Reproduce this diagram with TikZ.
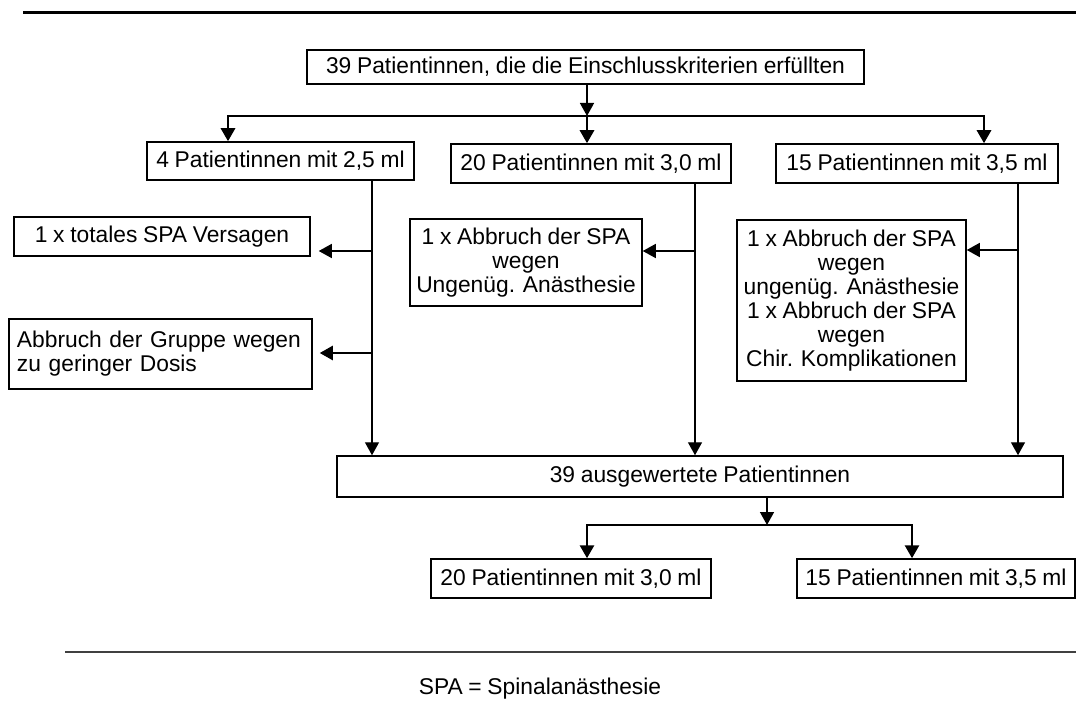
\documentclass[tikz,border=0pt]{standalone}
\usepackage{fontspec}
\setmainfont[WordSpace=0.9]{Liberation Sans}
\usetikzlibrary{arrows.meta}
\tikzset{
  box/.style={draw, line width=0.75pt, inner sep=2pt, align=center, font=\fontsize{11.4}{12}\selectfont},
  arr/.style={-{Triangle[length=6.5pt,width=7pt]}, line width=0.7pt},
  bar/.style={line width=1.4pt}
}
\begin{document}
\begin{tikzpicture}[x=0.5pt,y=-0.5pt]
  %%%%% START %%%%%
  \def\ybar{116}
  \def\ylow{525}
  \useasboundingbox (0,0) rectangle (1076,706);

  \draw[line width=1.5pt] (23,13) -- (1076,13);
  \draw[line width=0.8pt, black!75] (65,652) -- (1076,652);

  \node[box, minimum width=278.5pt, minimum height=17pt] (all) at (585.5,67) {39 Patientinnen, die die Einschlusskriterien erfüllten};

  \node[box, minimum width=133.5pt, minimum height=19pt] (g25) at (280.5,161) {4 Patientinnen mit 2,5 ml};
  \node[box, minimum width=140pt, minimum height=19.5pt] (g30) at (591,163.5) {20 Patientinnen mit 3,0 ml};
  \node[box, minimum width=141pt, minimum height=19.5pt] (g35) at (917,163.5) {15 Patientinnen mit 3,5 ml};

  \node[box, minimum width=148pt, minimum height=19.5pt] (tot) at (162,236.5) {1 x totales SPA Versagen};
  \node[box, align=left, text width=143.5pt, minimum height=35pt, inner sep=4pt] (grp) at (160.5,354) {Abbruch der Gruppe wegen\\zu geringer Dosis};
  \node[box, minimum width=116pt, minimum height=43.5pt] (ab30) at (526,262.5) {1 x Abbruch der SPA\\wegen\\Ungenüg. Anästhesie};
  \node[box, minimum width=114.5pt, minimum height=80.5pt] (ab35) at (851.5,300.5) {1 x Abbruch der SPA\\wegen\\ungenüg. Anästhesie\\1 x Abbruch der SPA\\wegen\\Chir. Komplikationen};

  \node[box, minimum width=363pt, minimum height=20.5pt] (eval) at (700,476.5) {39 ausgewertete Patientinnen};
  \node[box, minimum width=140pt, minimum height=19.5pt] (e30) at (571,578.5) {20 Patientinnen mit 3,0 ml};
  \node[box, minimum width=139pt, minimum height=19.5pt] (e35) at (936,578.5) {15 Patientinnen mit 3,5 ml};

  \node[font=\fontsize{11.4}{12}\selectfont] (legend) at (540,689) {SPA = Spinalanästhesie};

  % split into the three groups
  \coordinate (split) at (587,\ybar);
  \coordinate (d25) at (228,\ybar);
  \coordinate (d35) at (984,\ybar);
  \draw[arr] (all.south -| split) -- (split);
  \draw[arr, bar] (split) -| (d25 |- g25.north);
  \draw[arr, bar] (split) -| (d35 |- g35.north);
  \draw[arr, bar] (split) -- (split |- g30.north);

  % group lines down to the evaluation
  \coordinate (v25) at (372,251);
  \coordinate (w25) at (372,353);
  \coordinate (v30) at (695,251);
  \coordinate (v35) at (1018,250);
  \draw[arr] (v25 |- g25.south) -- (v25 |- eval.north);
  \draw[arr] (v30 |- g30.south) -- (v30 |- eval.north);
  \draw[arr] (v35 |- g35.south) -- (v35 |- eval.north);
  \draw[arr, shorten >=4pt] (v25) -- (v25 -| tot.east);
  \draw[arr, line width=1.2pt, shorten >=3.5pt] (w25) -- (w25 -| grp.east);
  \draw[arr] (v30) -- (v30 -| ab30.east);
  \draw[arr] (v35) -- (v35 -| ab35.east);

  % split of the evaluated patients
  \coordinate (s2) at (767,\ylow);
  \coordinate (d30) at (587,\ylow);
  \coordinate (d45) at (912,\ylow);
  \draw[arr] (eval.south -| s2) -- (s2);
  \draw[arr, bar] (s2) -| (d30 |- e30.north);
  \draw[arr, bar] (s2) -| (d45 |- e35.north);
  %%%%% END %%%%%
\end{tikzpicture}
\end{document}
